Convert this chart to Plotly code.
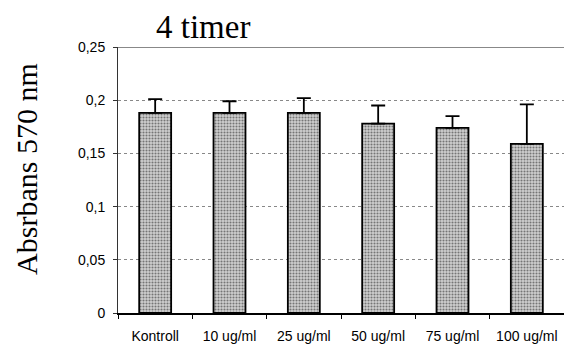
import plotly.graph_objects as go

# Absorbance at 570 nm after 4 hours, mean with upper standard deviation
categories = ["Kontroll", "10 ug/ml", "25 ug/ml", "50 ug/ml", "75 ug/ml", "100 ug/ml"]
absorbance = [0.188, 0.188, 0.188, 0.178, 0.174, 0.159]
std_upper = [0.013, 0.011, 0.014, 0.017, 0.011, 0.037]
y_ticks = [0, 0.05, 0.1, 0.15, 0.2, 0.25]
y_tick_labels = ["0", "0,05", "0,1", "0,15", "0,2", "0,25"]

fig = go.Figure()
fig.add_trace(go.Bar(
    x=categories,
    y=absorbance,
    width=0.43,
    marker=dict(
        color="#cfcfcf",
        line=dict(color="#000000", width=1.8),
        pattern=dict(shape=".", fgcolor="#1a1a1a", bgcolor="#d0d0d0",
                     size=3, solidity=0.4),
    ),
    error_y=dict(type="data", symmetric=False, array=std_upper,
                 arrayminus=[0] * len(std_upper),
                 color="#000000", thickness=1.8, width=7),
    showlegend=False,
))

fig.update_layout(
    width=564, height=349,
    margin=dict(l=118, r=0, t=47, b=36, autoexpand=False),
    paper_bgcolor="white", plot_bgcolor="white",
    bargap=0.57,
    font=dict(family="Liberation Sans, Arial, sans-serif", color="#000"),
)

fig.update_xaxes(
    showline=True, linecolor="#000", linewidth=1.5,
    ticks="outside", tickson="boundaries", ticklen=4, tickcolor="#000",
    tickangle=0, automargin=False, ticklabelstandoff=9,
    tickfont=dict(size=14, family="Liberation Sans, Arial, sans-serif"),
    showgrid=False,
)
fig.update_yaxes(
    range=[0, 0.25], tickvals=y_ticks, ticktext=y_tick_labels,
    showline=True, linecolor="#333", linewidth=1,
    ticks="outside", ticklen=4, tickcolor="#333", automargin=False,
    ticklabelstandoff=5,
    tickfont=dict(size=14, family="Liberation Sans, Arial, sans-serif"),
    showgrid=True, gridcolor="#888", griddash="dot", gridwidth=1,
    zeroline=False,
)

# solid frame line along the top of the plot area
fig.add_shape(type="line", xref="paper", yref="y", x0=0, x1=1, y0=0.25, y1=0.25,
              line=dict(color="#888", width=2))

fig.add_annotation(text="4 timer", xref="paper", yref="paper", x=0.19, y=1.075,
                   xanchor="center", yanchor="middle", showarrow=False,
                   font=dict(family="Liberation Serif, Times New Roman, serif", size=33))
fig.add_annotation(text="Absrbans 570 nm", xref="paper", yref="paper", x=-0.205, y=0.54,
                   xanchor="center", yanchor="middle", textangle=-90, showarrow=False,
                   font=dict(family="Liberation Serif, Times New Roman, serif", size=30))

fig.write_html("out.html")
